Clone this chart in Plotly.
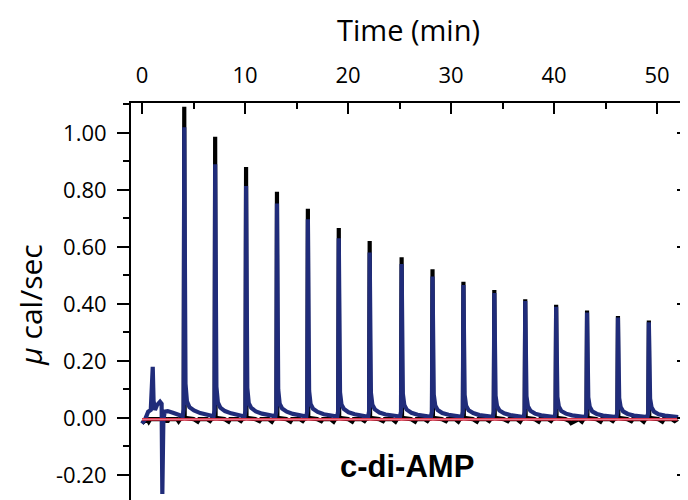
import plotly.graph_objects as go

# ---------------- data ----------------
# blue (raw heat) trace, time in min, value in µcal/sec
blue_time = [
    0.00, 0.30, 0.60, 0.85, 1.04, 1.12, 1.26, 1.45, 1.75, 1.90, 1.97, 2.07, 2.20, 2.50, 3.00, 3.40, 3.70, 3.95,
    4.04, 4.10, 4.22, 4.36, 4.60, 5.05, 5.65, 6.35, 6.95,
    7.04, 7.10, 7.22, 7.36, 7.60, 8.05, 8.65, 9.35, 9.95,
    10.04, 10.10, 10.22, 10.36, 10.60, 11.05, 11.65, 12.35, 12.95,
    13.04, 13.10, 13.22, 13.36, 13.60, 14.05, 14.65, 15.35, 15.95,
    16.04, 16.10, 16.22, 16.36, 16.60, 17.05, 17.65, 18.35, 18.95,
    19.04, 19.10, 19.22, 19.36, 19.60, 20.05, 20.65, 21.35, 21.95,
    22.04, 22.10, 22.22, 22.36, 22.60, 23.05, 23.65, 24.35, 25.05,
    25.14, 25.20, 25.32, 25.46, 25.70, 26.15, 26.75, 27.45, 28.05,
    28.14, 28.20, 28.32, 28.46, 28.70, 29.15, 29.75, 30.45, 31.05,
    31.14, 31.20, 31.32, 31.46, 31.70, 32.15, 32.75, 33.45, 34.05,
    34.14, 34.20, 34.32, 34.46, 34.70, 35.15, 35.75, 36.45, 37.05,
    37.14, 37.20, 37.32, 37.46, 37.70, 38.15, 38.75, 39.45, 40.05,
    40.14, 40.20, 40.32, 40.46, 40.70, 41.15, 41.75, 42.45, 43.05,
    43.14, 43.20, 43.32, 43.46, 43.70, 44.15, 44.75, 45.45, 46.05,
    46.14, 46.20, 46.32, 46.46, 46.70, 47.15, 47.75, 48.45, 49.05,
    49.14, 49.20, 49.32, 49.46, 49.70, 50.15, 50.75, 51.45, 52.05,
]
blue_value = [
    -0.020, -0.005, 0.022, 0.028, 0.179, 0.060, 0.028, 0.045, 0.057, 0.050, -0.267, -0.010, 0.022, 0.024, 0.018, 0.012, 0.008, 0.006,
    0.030, 1.020, 0.120, 0.058, 0.038, 0.026, 0.017, 0.010, 0.006,
    0.028, 0.890, 0.110, 0.055, 0.036, 0.024, 0.016, 0.009, 0.005,
    0.026, 0.814, 0.105, 0.052, 0.035, 0.023, 0.015, 0.010, 0.006,
    0.025, 0.752, 0.100, 0.050, 0.033, 0.022, 0.014, 0.008, 0.005,
    0.025, 0.697, 0.095, 0.049, 0.032, 0.021, 0.013, 0.008, 0.005,
    0.024, 0.630, 0.090, 0.047, 0.031, 0.020, 0.013, 0.007, 0.004,
    0.023, 0.580, 0.088, 0.046, 0.030, 0.019, 0.012, 0.008, 0.005,
    0.022, 0.540, 0.085, 0.045, 0.029, 0.018, 0.011, 0.007, 0.004,
    0.022, 0.496, 0.082, 0.044, 0.028, 0.017, 0.011, 0.006, 0.004,
    0.021, 0.466, 0.080, 0.043, 0.027, 0.017, 0.010, 0.007, 0.004,
    0.021, 0.438, 0.078, 0.042, 0.026, 0.016, 0.010, 0.006, 0.003,
    0.020, 0.410, 0.076, 0.041, 0.025, 0.015, 0.009, 0.006, 0.003,
    0.020, 0.390, 0.074, 0.040, 0.024, 0.015, 0.009, 0.005, 0.003,
    0.019, 0.370, 0.072, 0.039, 0.023, 0.014, 0.008, 0.005, 0.003,
    0.019, 0.352, 0.070, 0.038, 0.023, 0.014, 0.008, 0.005, 0.003,
    0.018, 0.336, 0.068, 0.037, 0.022, 0.013, 0.008, 0.005, 0.003,
]

# black (second) trace, mostly hidden under the blue one
black_time = [
    0.00, 0.50, 0.65, 0.80, 1.50, 2.30, 2.45, 2.60, 3.40, 3.55, 3.70,
    4.05, 4.10, 4.14, 5.00, 5.40, 5.55, 6.30, 6.60, 6.75,
    7.05, 7.10, 7.14, 8.00, 8.40, 8.55, 9.30, 9.60, 9.75,
    10.05, 10.10, 10.14, 11.00, 11.40, 11.55, 12.30, 12.60, 12.75,
    13.05, 13.10, 13.14, 14.00, 14.40, 14.55, 15.30, 15.60, 15.75,
    16.05, 16.10, 16.14, 17.00, 17.40, 17.55, 18.30, 18.60, 18.75,
    19.05, 19.10, 19.14, 20.00, 20.40, 20.55, 21.30, 21.60, 21.75,
    22.05, 22.10, 22.14, 23.00, 23.40, 23.55, 24.30, 24.60, 24.75,
    25.15, 25.20, 25.24, 26.10, 26.50, 26.65, 27.40, 27.70, 27.85,
    28.15, 28.20, 28.24, 29.10, 29.50, 29.65, 30.40, 30.70, 30.85,
    31.15, 31.20, 31.24, 32.10, 32.50, 32.65, 33.40, 33.70, 33.85,
    34.15, 34.20, 34.24, 35.10, 35.50, 35.65, 36.40, 36.70, 36.85,
    37.15, 37.20, 37.24, 38.10, 38.50, 38.65, 39.40, 39.70, 39.85,
    40.15, 40.20, 40.24, 41.10, 41.50, 41.65, 42.40, 42.70, 42.85,
    43.15, 43.20, 43.24, 44.10, 44.50, 44.65, 45.40, 45.70, 45.85,
    46.15, 46.20, 46.24, 47.10, 47.50, 47.65, 48.40, 48.70, 48.85,
    49.15, 49.20, 49.24, 50.10, 50.50, 50.65, 51.40, 51.70, 52.00,
]
black_value = [
    -0.018, -0.004, -0.013, -0.004, -0.004, -0.004, -0.014, -0.004, -0.004, -0.012, -0.004,
    0.000, 1.092, 0.000, -0.004, -0.013, -0.004, -0.004, -0.011, -0.004,
    0.000, 0.987, 0.000, -0.004, -0.013, -0.004, -0.004, -0.011, -0.004,
    0.000, 0.880, 0.000, -0.004, -0.011, -0.004, -0.004, -0.013, -0.004,
    0.000, 0.794, 0.000, -0.004, -0.013, -0.004, -0.004, -0.011, -0.004,
    0.000, 0.734, 0.000, -0.004, -0.011, -0.004, -0.004, -0.013, -0.004,
    0.000, 0.666, 0.000, -0.004, -0.013, -0.004, -0.004, -0.011, -0.004,
    0.000, 0.621, 0.000, -0.004, -0.011, -0.004, -0.004, -0.013, -0.004,
    0.000, 0.564, 0.000, -0.004, -0.013, -0.004, -0.004, -0.011, -0.004,
    0.000, 0.522, 0.000, -0.004, -0.011, -0.004, -0.004, -0.013, -0.004,
    0.000, 0.478, 0.000, -0.004, -0.013, -0.004, -0.004, -0.011, -0.004,
    0.000, 0.449, 0.000, -0.004, -0.011, -0.004, -0.004, -0.013, -0.004,
    0.000, 0.416, 0.000, -0.004, -0.013, -0.004, -0.004, -0.011, -0.004,
    0.000, 0.397, 0.000, -0.004, -0.011, -0.018, -0.004, -0.013, -0.004,
    0.000, 0.377, 0.000, -0.004, -0.013, -0.004, -0.004, -0.011, -0.004,
    0.000, 0.358, 0.000, -0.004, -0.011, -0.004, -0.004, -0.013, -0.004,
    0.000, 0.342, 0.000, -0.004, -0.013, -0.004, -0.004, -0.011, -0.004,
]

# fitted baseline (red)
baseline_time = [0.0, 52.0]
baseline_value = [-0.005, -0.005]

# axis ticks
x_tickvals = [0, 10, 20, 30, 40, 50]
x_ticktext = ["0", "10", "20", "30", "40", "50"]
y_tickvals = [-0.2, 0.0, 0.2, 0.4, 0.6, 0.8, 1.0]
y_ticktext = ["-0.20", "0.00", "0.20", "0.40", "0.60", "0.80", "1.00"]

# ---------------- figure ----------------
FONT = "Open Sans"
fig = go.Figure()

fig.add_trace(go.Scatter(x=black_time, y=black_value, mode="lines",
                         line=dict(color="#000000", width=4.2), hoverinfo="skip"))
fig.add_trace(go.Scatter(x=blue_time, y=blue_value, mode="lines",
                         line=dict(color="#202C7A", width=4.2), hoverinfo="skip"))
fig.add_trace(go.Scatter(x=baseline_time, y=baseline_value, mode="lines",
                         line=dict(color="#D8283F", width=2.6), hoverinfo="skip"))
fig.add_trace(go.Scatter(x=baseline_time, y=baseline_value, mode="lines",
                         line=dict(color="#F4B0BC", width=0.7), hoverinfo="skip"))
# invisible trace so the right-hand (tick-only) axis is drawn
fig.add_trace(go.Scatter(x=[0], y=[0], yaxis="y2", mode="markers",
                         marker=dict(opacity=0), hoverinfo="skip"))

# the page body has an 8 px margin, so the figure is 680x492 and the margins
# are reduced by 8 px to keep the plot area at the reference pixel position
fig.update_layout(
    width=680, height=492,
    margin=dict(l=123, r=0, t=95, b=0),
    paper_bgcolor="white", plot_bgcolor="white",
    showlegend=False,
    font=dict(family=FONT, color="black"),
    xaxis=dict(
        side="top", range=[-1.07, 53.0],
        showline=True, linewidth=2, linecolor="black",
        ticks="inside", ticklen=11, tickwidth=2, tickcolor="black",
        tickvals=x_tickvals, ticktext=x_ticktext,
        minor=dict(dtick=5, tick0=0, ticks="inside", ticklen=6, tickwidth=2, tickcolor="black"),
        tickfont=dict(size=22, family=FONT), ticklabelstandoff=9,
        showgrid=False, zeroline=False,
    ),
    yaxis=dict(
        range=[-0.288, 1.105],
        showline=True, linewidth=2, linecolor="black",
        ticks="outside", ticklen=12, tickwidth=2, tickcolor="black",
        tickvals=y_tickvals, ticktext=y_ticktext,
        minor=dict(dtick=0.1, tick0=0, ticks="outside", ticklen=6, tickwidth=2, tickcolor="black"),
        tickfont=dict(size=22, family=FONT), ticklabelstandoff=6,
        showgrid=False, zeroline=False,
    ),
    yaxis2=dict(
        overlaying="y", side="right", range=[-0.288, 1.105],
        showline=False, showticklabels=False,
        ticks="inside", ticklen=11, tickwidth=2, tickcolor="black",
        tickvals=y_tickvals,
        minor=dict(dtick=0.1, tick0=0, ticks="inside", ticklen=5, tickwidth=2, tickcolor="black"),
        showgrid=False, zeroline=False,
    ),
    annotations=[
        dict(text="Time (min)", xref="paper", yref="paper", x=0.498, y=1.184,
             xanchor="center", yanchor="middle", showarrow=False,
             font=dict(size=29, family=FONT, color="black")),
        dict(text="<i>μ</i> cal/sec", xref="paper", yref="paper", x=-0.182, y=0.491,
             xanchor="center", yanchor="middle", textangle=-90, showarrow=False,
             font=dict(size=30, family=FONT, color="black")),
        dict(text="<b>c-di-AMP</b>", xref="x", yref="y", x=25.7, y=-0.172,
             xanchor="center", yanchor="middle", showarrow=False,
             font=dict(size=31, family="Liberation Sans, Arial", color="black")),
    ],
)

fig.write_html("out.html")
